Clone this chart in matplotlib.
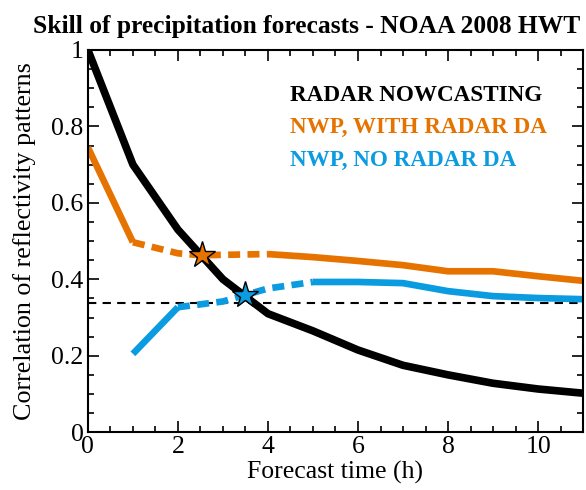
import numpy as np
import matplotlib
matplotlib.use('Agg')
import matplotlib.pyplot as plt
from matplotlib.ticker import MultipleLocator

plt.rcParams['font.family'] = ['Liberation Serif', 'DejaVu Serif']

# radar nowcasting
t_radar = [0, 1, 2, 3, 4, 5, 6, 7, 8, 9, 10, 11]
c_radar = [1.0, 0.70, 0.53, 0.40, 0.31, 0.265, 0.215, 0.175, 0.15, 0.128, 0.113, 0.102]

# NWP with radar DA (solid / dashed / solid)
t_da1 = [0, 1]
c_da1 = [0.745, 0.497]
t_da2 = [1, 2, 2.5, 3, 4]
c_da2 = [0.497, 0.468, 0.463, 0.464, 0.466]
t_da3 = [4, 5, 6, 7, 8, 9, 10, 11]
c_da3 = [0.466, 0.458, 0.448, 0.437, 0.421, 0.421, 0.408, 0.396]

# NWP without radar DA
t_no1 = [1, 2]
c_no1 = [0.205, 0.327]
t_no2 = [2, 3, 3.5, 4, 5]
c_no2 = [0.327, 0.342, 0.359, 0.376, 0.393]
t_no3 = [5, 6, 7, 8, 9, 10, 11]
c_no3 = [0.393, 0.393, 0.39, 0.369, 0.356, 0.351, 0.348]

# crossing points
star_t = [2.54, 3.5]
star_c = [0.463, 0.359]
ref_level = 0.337

orange = '#E67300'
blue = '#0A9BE0'

fig = plt.figure(figsize=(5.86, 4.9), dpi=100)
ax = fig.add_axes([0.150, 0.118, 0.845, 0.780])

dash = (0, (1.8, 1.1))
ax.axhline(ref_level, color='black', lw=1.5, ls=(0, (4, 3)), zorder=1)
ax.plot(t_no1, c_no1, color=blue, lw=4.8, solid_capstyle='butt', zorder=2)
ax.plot(t_no2, c_no2, color=blue, lw=4.8, ls=dash, dash_capstyle='butt', zorder=2)
ax.plot(t_no3, c_no3, color=blue, lw=4.8, solid_capstyle='butt', zorder=2)
ax.plot(t_da1, c_da1, color=orange, lw=4.8, solid_capstyle='butt', zorder=2)
ax.plot(t_da2, c_da2, color=orange, lw=4.8, ls=dash, dash_capstyle='butt', zorder=2)
ax.plot(t_da3, c_da3, color=orange, lw=4.8, solid_capstyle='butt', zorder=2)
ax.plot(t_radar, c_radar, color='black', lw=5.5, zorder=3)
ax.plot(star_t[0], star_c[0], marker='*', ms=20, mfc=orange, mec='black', mew=1, zorder=4)
ax.plot(star_t[1], star_c[1], marker='*', ms=20, mfc=blue, mec='black', mew=1, zorder=4)

ax.set_xlim(0, 11)
ax.set_ylim(0, 1)
ax.xaxis.set_major_locator(MultipleLocator(2))
ax.xaxis.set_minor_locator(MultipleLocator(0.5))
ax.yaxis.set_minor_locator(MultipleLocator(0.05))
ax.set_yticks([0, 0.2, 0.4, 0.6, 0.8, 1])
ax.set_yticklabels(['0', '0.2', '0.4', '0.6', '0.8', '1'])
ax.tick_params(which='both', direction='in', top=True, right=True, width=1.2, labelsize=18.5)
ax.tick_params(which='major', length=8, pad=3)
ax.tick_params(which='minor', length=4)
for s in ax.spines.values():
    s.set_linewidth(1.5)

ax.set_xlabel('Forecast time (h)', fontsize=18.5, labelpad=2)
ax.set_ylabel('Correlation of reflectivity patterns', fontsize=18.8, labelpad=11)
fig.text(0.523, 0.933, 'Skill of precipitation forecasts - NOAA 2008 HWT', fontsize=18.4,
         fontweight='bold', ha='center', va='baseline')

ax.text(4.5, 0.88, 'RADAR NOWCASTING', color='black', fontsize=16.7, fontweight='bold', va='center')
ax.text(4.5, 0.796, 'NWP, WITH RADAR DA', color=orange, fontsize=16.7, fontweight='bold', va='center')
ax.text(4.5, 0.712, 'NWP, NO RADAR DA', color=blue, fontsize=16.7, fontweight='bold', va='center')

fig.savefig('out.png', dpi=100)
